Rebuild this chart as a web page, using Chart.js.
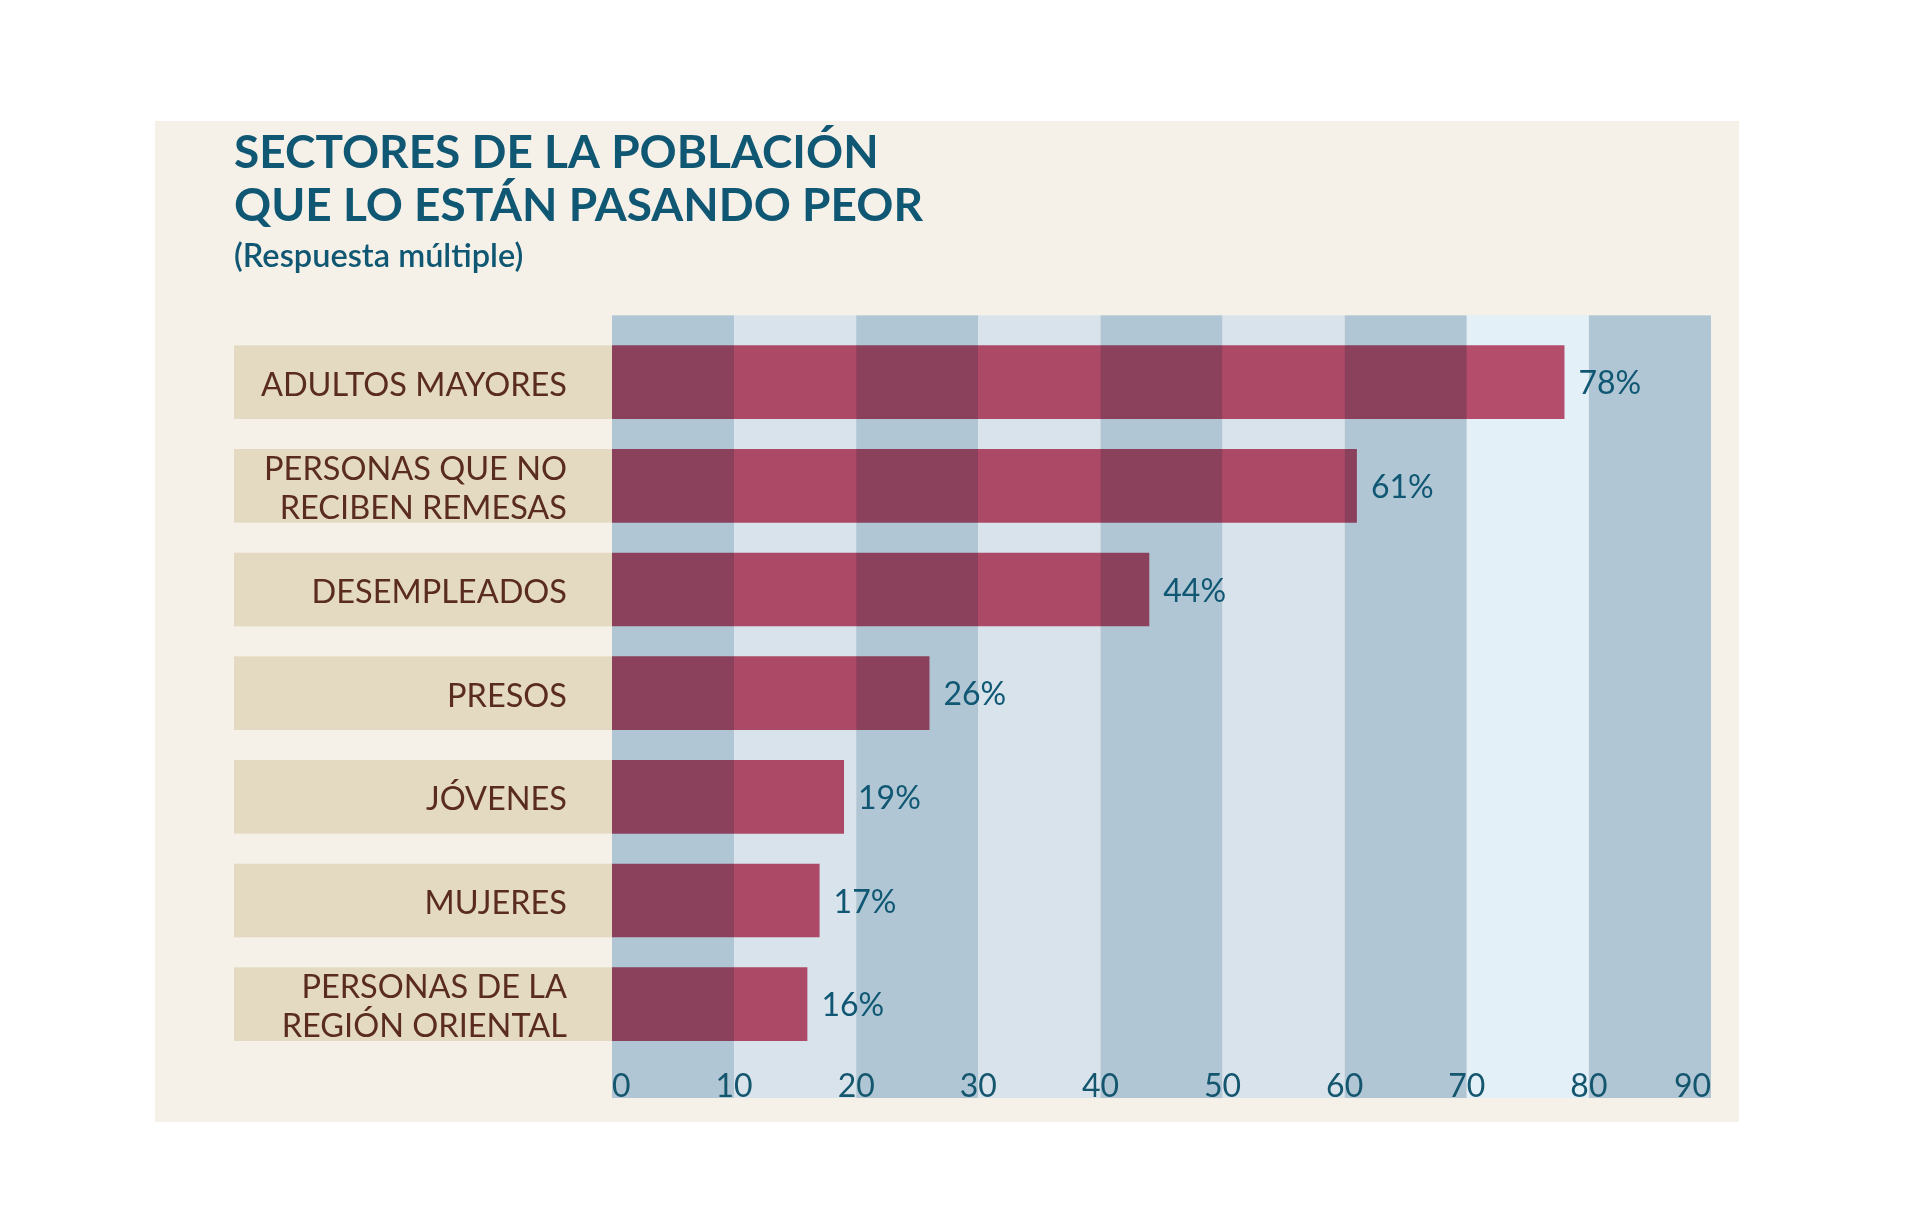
<!DOCTYPE html>
<html>
<head>
<meta charset="utf-8">
<script src="https://cdn.jsdelivr.net/npm/chart.js@4.4.1/dist/chart.umd.min.js"></script>
<style>
  html, body { margin: 0; padding: 0; background: #ffffff; }
  #wrap { width: 1920px; height: 1230px; position: relative; }
</style>
</head>
<body>
<div id="wrap"><canvas id="c" width="1920" height="1230"></canvas></div>
<script>
const titleLines = ['SECTORES DE LA POBLACIÓN', 'QUE LO ESTÁN PASANDO PEOR'];
const subtitleText = '(Respuesta múltiple)';
const categories = [
  'ADULTOS MAYORES',
  ['PERSONAS QUE NO', 'RECIBEN REMESAS'],
  'DESEMPLEADOS',
  'PRESOS',
  'JÓVENES',
  'MUJERES',
  ['PERSONAS DE LA', 'REGIÓN ORIENTAL']
];
const values = [78, 61, 44, 26, 19, 17, 16];
const xTicks = [0, 10, 20, 30, 40, 50, 60, 70, 80, 90];

const C = {
  page: '#ffffff',
  panel: '#f5f0e8',
  labelBox: '#e4d9c1',
  labelText: '#5a2c20',
  bandDark: '#b0c6d4',
  bandLight: '#d8e3ec',
  bandLightest: '#e4f0f8',
  bar: '#ca526f',
  teal: '#0f5773',
  tick: '#15566f'
};

const decor = {
  id: 'decor',
  beforeDraw(chart) {
    const ctx = chart.ctx, ca = chart.chartArea, x = chart.scales.x;
    ctx.save();
    ctx.fillStyle = C.page;
    ctx.fillRect(0, 0, chart.width, chart.height);
    ctx.fillStyle = C.panel;
    ctx.fillRect(155, 121, 1584, 1001);
    // vertical bands
    const top = ca.top - 15, bottom = ca.bottom + 42;
    for (let i = 0; i < xTicks.length - 1; i++) {
      const x0 = x.getPixelForValue(xTicks[i]);
      const x1 = x.getPixelForValue(xTicks[i + 1]);
      let col = (i % 2 === 0) ? C.bandDark : C.bandLight;
      if (i === 7) col = C.bandLightest;
      ctx.fillStyle = col;
      ctx.fillRect(x0, top, x1 - x0, bottom - top);
    }
    // label boxes
    const meta = chart.getDatasetMeta(0);
    ctx.fillStyle = C.labelBox;
    meta.data.forEach(bar => {
      const h = bar.height;
      ctx.fillRect(234, bar.y - h / 2, ca.left - 234, h);
    });
    ctx.restore();
  },
  beforeDatasetsDraw(chart) {
    chart.ctx.save();
    chart.ctx.globalCompositeOperation = 'multiply';
  },
  afterDatasetsDraw(chart) {
    chart.ctx.restore();
    const ctx = chart.ctx;
    const meta = chart.getDatasetMeta(0);
    ctx.save();
    ctx.font = '32px Lato';
    ctx.fillStyle = C.teal;
    ctx.textAlign = 'left';
    ctx.textBaseline = 'middle';
    meta.data.forEach((bar, i) => {
      ctx.fillText(values[i] + '%', bar.x + 14, bar.y + 2);
    });
    ctx.restore();
  }
};

new Chart(document.getElementById('c'), {
  type: 'bar',
  data: {
    labels: categories,
    datasets: [{
      data: values,
      backgroundColor: C.bar,
      borderWidth: 0,
      barPercentage: 0.71,
      categoryPercentage: 1.0
    }]
  },
  options: {
    indexAxis: 'y',
    responsive: false,
    animation: false,
    events: [],
    layout: { padding: { left: 234, right: 209, top: 0, bottom: 132 } },
    plugins: {
      legend: { display: false },
      tooltip: { enabled: false },
      title: {
        display: true,
        text: titleLines,
        align: 'start',
        color: C.teal,
        font: { family: 'Lato', size: 46, weight: 'bold', lineHeight: 1.145 },
        padding: { top: 127, bottom: 0 }
      },
      subtitle: {
        display: true,
        text: subtitleText,
        align: 'start',
        color: C.teal,
        font: { family: 'Lato', size: 32.5, weight: '600', lineHeight: 1.2 },
        padding: { top: 5, bottom: 54 }
      }
    },
    scales: {
      x: {
        type: 'linear',
        min: 0,
        max: 90,
        afterBuildTicks(scale) { scale.ticks = xTicks.map(v => ({ value: v })); },
        afterFit(scale) { scale.height = 42; },
        grid: { display: false, drawTicks: false },
        border: { display: false },
        ticks: {
          align: 'inner',
          color: C.tick,
          padding: 11,
          font: { family: 'Lato', size: 32 }
        }
      },
      y: {
        afterFit(scale) { scale.width = 378; },
        grid: { display: false, drawTicks: false },
        border: { display: false },
        ticks: {
          color: C.labelText,
          padding: 45,
          labelOffset: 3,
          font: { family: 'Lato', size: 32.5, lineHeight: 1.2 }
        }
      }
    }
  },
  plugins: [decor]
});
</script>
</body>
</html>
